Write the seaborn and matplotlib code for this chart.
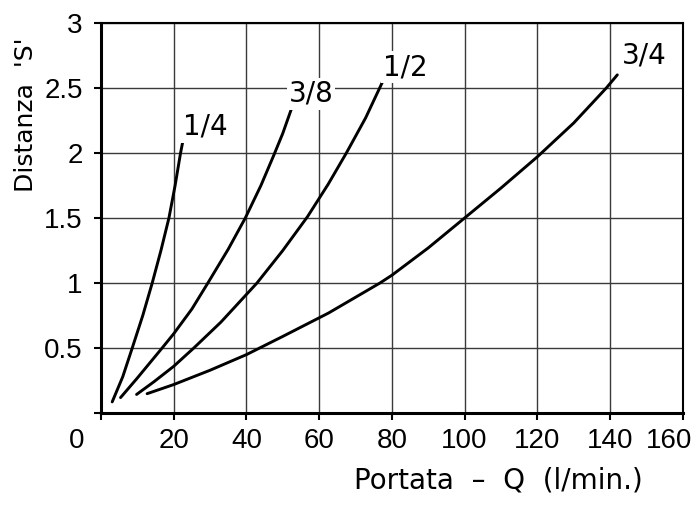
import matplotlib
matplotlib.use("Agg")
import matplotlib.pyplot as plt
import seaborn as sns
import pandas as pd
from matplotlib import transforms

# ---- data ----
q_14 = [3.1, 6.0, 8.6, 11.5, 14.1, 16.5, 18.7, 20.4, 21.9, 22.6]
s_14 = [0.087, 0.28, 0.50, 0.75, 1.00, 1.25, 1.50, 1.75, 2.00, 2.10]

q_38 = [5.4, 10.0, 16.8, 20.0, 25.0, 29.4, 35.0, 39.7, 44.0, 47.5, 50.0, 52.4]
s_38 = [0.12, 0.27, 0.50, 0.61, 0.80, 1.00, 1.26, 1.50, 1.75, 1.98, 2.15, 2.34]

q_12 = [9.8, 14.5, 20.0, 25.5, 33.0, 42.9, 50.0, 56.8, 62.5, 67.5, 72.8, 77.5]
s_12 = [0.144, 0.24, 0.36, 0.50, 0.70, 1.00, 1.25, 1.51, 1.76, 2.00, 2.27, 2.55]

q_34 = [12.7, 20.0, 30.0, 40.0, 50.0, 62.6, 76.7, 80.0, 90.0, 100.0, 110.0, 120.0, 130.0, 139.0, 142.0]
s_34 = [0.15, 0.22, 0.33, 0.45, 0.59, 0.77, 1.00, 1.06, 1.27, 1.50, 1.73, 1.97, 2.23, 2.50, 2.60]

series_names = ["1/4", "3/8", "1/2", "3/4"]
label_q = [28.7, 57.8, 83.6, 149.3]
label_s = [2.20, 2.455, 2.66, 2.745]

x_ticks = [0, 20, 40, 60, 80, 100, 120, 140, 160]
x_ticklabels = ["0", "20", "40", "60", "80", "100", "120", "140", "160"]
y_ticks = [0, 0.5, 1, 1.5, 2, 2.5, 3]
y_ticklabels = ["", "0.5", "1", "1.5", "2", "2.5", "3"]

x_label = "Portata  –  Q  (l/min.)"
y_label = "Distanza  'S'"

# ---- build table ----
frames = []
for name, q, s in zip(series_names, [q_14, q_38, q_12, q_34], [s_14, s_38, s_12, s_34]):
    frames.append(pd.DataFrame({"Q": q, "S": s, "size": name}))
df = pd.concat(frames, ignore_index=True)

sns.set_theme(style="white")
plt.rcParams["font.family"] = ["DejaVu Sans"]

fig, ax = plt.subplots(figsize=(6.96, 5.07), dpi=100)
fig.patch.set_facecolor("white")
fig.subplots_adjust(left=0.145, right=0.981, top=0.955, bottom=0.185)

sns.lineplot(data=df, x="Q", y="S", units="size", estimator=None, sort=False,
             color="black", linewidth=2.1, ax=ax, legend=False, zorder=2)

ax.set_xlim(0, 160)
ax.set_ylim(0, 3)
ax.set_xticks(x_ticks)
ax.set_xticklabels(x_ticklabels)
ax.set_yticks(y_ticks)
ax.set_yticklabels(y_ticklabels)

ax.grid(True, color="#3a3a3a", linewidth=1.0)
ax.set_axisbelow(True)

for side in ["left", "bottom"]:
    ax.spines[side].set_linewidth(2.2)
    ax.spines[side].set_color("black")
for side in ["top", "right"]:
    ax.spines[side].set_linewidth(1.5)
    ax.spines[side].set_color("black")

ax.tick_params(axis="both", which="major", direction="out", length=5, width=1.5,
               color="black", labelsize=20, labelcolor="black",
               bottom=True, left=True, top=False, right=False)
ax.tick_params(axis="x", pad=6)
ax.tick_params(axis="y", pad=8)

for lab in ax.get_xticklabels() + ax.get_yticklabels():
    lab.set_fontfamily(["Liberation Sans", "DejaVu Sans"])

xl = ax.get_xticklabels()
xl[0].set_transform(xl[0].get_transform() + transforms.ScaledTranslation(-0.24, 0, fig.dpi_scale_trans))
xl[-1].set_transform(xl[-1].get_transform() + transforms.ScaledTranslation(-0.14, 0, fig.dpi_scale_trans))

ax.set_xlabel(x_label, fontsize=20, color="black")
ax.xaxis.label.set_va("center")
ax.xaxis.set_label_coords(0.683, -0.172)
ax.set_ylabel(y_label, fontsize=18, color="black")
ax.yaxis.label.set_va("center")
ax.yaxis.set_label_coords(-0.128, 0.764)

for name, lq, ls in zip(series_names, label_q, label_s):
    ax.text(lq, ls, name, ha="center", va="center", fontsize=20, color="black",
            bbox=dict(facecolor="white", edgecolor="none", pad=1.5), zorder=4)

fig.savefig("out.png", dpi=100, facecolor="white")
